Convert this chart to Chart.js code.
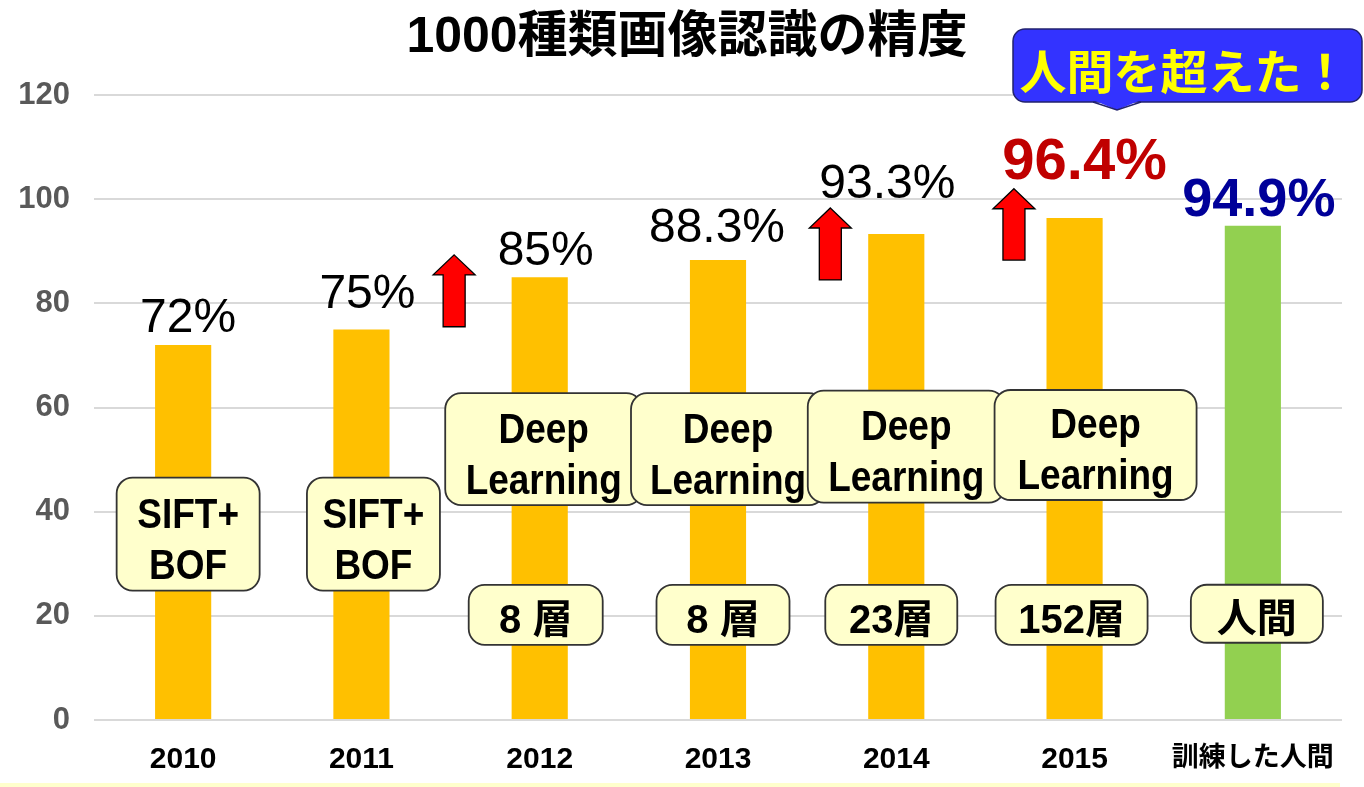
<!DOCTYPE html>
<html>
<head>
<meta charset="utf-8">
<script src="https://cdn.jsdelivr.net/npm/chart.js@4.4.1/dist/chart.umd.min.js"></script>
<style>
  body { margin: 0; background: #fff; }
  #accChart { display: block; }
</style>
</head>
<body>
<canvas id="accChart" width="1364" height="787"></canvas>
<script>
// --- data ---
const chartTitle = '1000種類画像認識の精度';
const categories = ['2010', '2011', '2012', '2013', '2014', '2015', '訓練した人間'];
const accuracy = [72, 75, 85, 88.3, 93.3, 96.4, 94.9];
const yTickValues = [0, 20, 40, 60, 80, 100, 120];
const methodLabels = [
    ['SIFT+', 'BOF'], ['SIFT+', 'BOF'],
    ['Deep', 'Learning'], ['Deep', 'Learning'], ['Deep', 'Learning'], ['Deep', 'Learning'],
    null
];
const layerLabels = [null, null, '8 層', '8 層', '23層', '152層', '人間'];
const calloutText = '人間を超えた！';

// --- styles ---
const LATIN = '"Liberation Sans", Arial, sans-serif';
const JP = '"Liberation Sans", "Noto Sans CJK JP", sans-serif';
const barColors = categories.map((c, i) => i === 6 ? '#92d050' : '#ffc000');

// value labels: offset of label centre from the bar top, colour, font
const valueLabelStyle = [
    { dx: 5,  dy: -30, color: '#000',    font: 'normal 48px ' + LATIN, size: 48 },
    { dx: 6,  dy: -39, color: '#000',    font: 'normal 48px ' + LATIN, size: 48 },
    { dx: 6,  dy: -30, color: '#000',    font: 'normal 48px ' + LATIN, size: 48 },
    { dx: -1, dy: -35, color: '#000',    font: 'normal 48px ' + LATIN, size: 48 },
    { dx: -9, dy: -53, color: '#000',    font: 'normal 48px ' + LATIN, size: 48 },
    { dx: 10, dy: -60, color: '#c00000', font: 'bold 58px ' + LATIN, size: 58 },
    { dx: 6,  dy: -29, color: '#000099', font: 'bold 54px ' + LATIN, size: 54 }
];
// method boxes: x offset from bar centre, centre in axis units, size
const methodBoxStyle = [
    { dx: 5,  yv: 35.7, w: 143, h: 113 },
    { dx: 12, yv: 35.7, w: 133, h: 113 },
    { dx: 4,  yv: 52.0, w: 197, h: 112 },
    { dx: 10, yv: 52.0, w: 194, h: 112 },
    { dx: 10, yv: 52.5, w: 197, h: 112 },
    { dx: 21, yv: 52.8, w: 202, h: 110 },
    null
];
const layerBoxStyle = [
    null, null,
    { dx: -4, yv: 20.2, w: 134, h: 60 },
    { dx: 5,  yv: 20.2, w: 133, h: 60 },
    { dx: -5, yv: 20.2, w: 132, h: 60 },
    { dx: -3, yv: 20.2, w: 152, h: 60 },
    { dx: 4,  yv: 20.4, w: 132, h: 58 }
];
// red arrows: position on the category axis, top and bottom in axis units
const arrowStyle = [
    { at: 1.52, top: 89.3, bottom: 75.5 },
    { at: 3.63, top: 98.3, bottom: 84.5 },
    { at: 4.66, top: 102.0, bottom: 88.3 }
];

function drawBox(ctx, cx, cy, w, h) {
    ctx.beginPath();
    ctx.roundRect(cx - w / 2, cy - h / 2, w, h, 16);
    ctx.fillStyle = '#ffffcc';
    ctx.fill();
    ctx.lineWidth = 1.8;
    ctx.strokeStyle = '#333';
    ctx.stroke();
}

// text whose cap centre sits at cy, squeezed horizontally
function drawSqueezed(ctx, text, cx, cy, size, squeeze, font) {
    ctx.save();
    ctx.translate(cx, cy + size * 0.36);
    ctx.scale(squeeze, 1);
    ctx.font = font;
    ctx.textAlign = 'center';
    ctx.textBaseline = 'alphabetic';
    ctx.fillStyle = '#000';
    ctx.fillText(text, 0, 0);
    ctx.restore();
}

function drawArrow(ctx, xc, yTop, yBot) {
    const headW = 42, headH = 20, shaftW = 22;
    ctx.beginPath();
    ctx.moveTo(xc, yTop);
    ctx.lineTo(xc + headW / 2, yTop + headH);
    ctx.lineTo(xc + shaftW / 2, yTop + headH);
    ctx.lineTo(xc + shaftW / 2, yBot);
    ctx.lineTo(xc - shaftW / 2, yBot);
    ctx.lineTo(xc - shaftW / 2, yTop + headH);
    ctx.lineTo(xc - headW / 2, yTop + headH);
    ctx.closePath();
    ctx.fillStyle = '#ff0000';
    ctx.fill();
    ctx.lineWidth = 1.3;
    ctx.strokeStyle = '#000';
    ctx.stroke();
}

const slidePlugin = {
    id: 'slide',
    afterDatasetsDraw(chart) {
        const ctx = chart.ctx;
        const x = chart.scales.x, y = chart.scales.y;
        const bars = chart.getDatasetMeta(0).data;

        // bottom band of the slide
        ctx.fillStyle = '#ffffcc';
        ctx.fillRect(0, 783, 1340, 4);

        // title
        ctx.font = 'bold 50px ' + JP;
        ctx.textAlign = 'center';
        ctx.textBaseline = 'alphabetic';
        ctx.fillStyle = '#000';
        ctx.fillText(chartTitle, 687, 52);

        // arrows
        arrowStyle.forEach(a => {
            drawArrow(ctx, x.getPixelForValue(a.at), y.getPixelForValue(a.top), y.getPixelForValue(a.bottom));
        });

        // method boxes
        methodLabels.forEach((lines, i) => {
            const s = methodBoxStyle[i];
            if (!lines || !s) return;
            const cx = bars[i].x + s.dx, cy = y.getPixelForValue(s.yv);
            drawBox(ctx, cx, cy, s.w, s.h);
            drawSqueezed(ctx, lines[0], cx, cy - 22, 43, 0.86, 'bold 43px ' + LATIN);
            drawSqueezed(ctx, lines[1], cx, cy + 29, 43, 0.86, 'bold 43px ' + LATIN);
        });

        // layer boxes
        layerLabels.forEach((t, i) => {
            const s = layerBoxStyle[i];
            if (!t || !s) return;
            const cx = bars[i].x + s.dx, cy = y.getPixelForValue(s.yv);
            drawBox(ctx, cx, cy, s.w, s.h);
            drawSqueezed(ctx, t, cx, cy + 4, 40, 1, 'bold 40px ' + JP);
        });

        // value labels
        accuracy.forEach((v, i) => {
            const s = valueLabelStyle[i];
            ctx.font = s.font;
            ctx.fillStyle = s.color;
            ctx.textAlign = 'center';
            ctx.textBaseline = 'alphabetic';
            ctx.fillText(v + '%', bars[i].x + s.dx, bars[i].y + s.dy + s.size * 0.36);
        });

        // callout
        ctx.beginPath();
        ctx.roundRect(1013, 29, 349, 73, 12);
        ctx.fillStyle = '#3333ff';
        ctx.fill();
        ctx.lineWidth = 1.5;
        ctx.strokeStyle = '#22226e';
        ctx.stroke();
        ctx.beginPath();
        ctx.moveTo(1093, 100);
        ctx.lineTo(1117, 110);
        ctx.lineTo(1141, 100);
        ctx.closePath();
        ctx.fill();
        ctx.beginPath();
        ctx.moveTo(1093, 102);
        ctx.lineTo(1117, 110);
        ctx.lineTo(1141, 102);
        ctx.stroke();
        ctx.font = 'bold 47px ' + JP;
        ctx.fillStyle = '#ffff00';
        ctx.textAlign = 'center';
        ctx.fillText(calloutText, 1184, 89);
    }
};

new Chart(document.getElementById('accChart'), {
    type: 'bar',
    data: {
        labels: categories,
        datasets: [{
            data: accuracy,
            backgroundColor: barColors,
            barPercentage: 0.315,
            categoryPercentage: 1
        }]
    },
    options: {
        responsive: false,
        animation: false,
        devicePixelRatio: 1,
        layout: { padding: { top: 95, right: 22, left: 0, bottom: 0 } },
        plugins: { legend: { display: false }, tooltip: { enabled: false } },
        scales: {
            x: {
                grid: { display: false },
                border: { display: false },
                ticks: {
                    color: '#000',
                    padding: 14,
                    font: c => c.index === 6
                        ? { family: JP, size: 27, weight: 'bold' }
                        : { family: LATIN, size: 30, weight: 'bold' }
                },
                afterFit: s => { s.height = 67; }
            },
            y: {
                min: 0,
                max: 120,
                afterBuildTicks: s => { s.ticks = yTickValues.map(v => ({ value: v })); },
                grid: { color: '#d9d9d9', lineWidth: 2, drawTicks: false },
                border: { display: false },
                ticks: {
                    color: '#595959',
                    padding: 24,
                    font: { family: LATIN, size: 31, weight: 'bold' }
                },
                afterFit: s => { s.width = 94; }
            }
        }
    },
    plugins: [slidePlugin]
});
</script>
</body>
</html>
